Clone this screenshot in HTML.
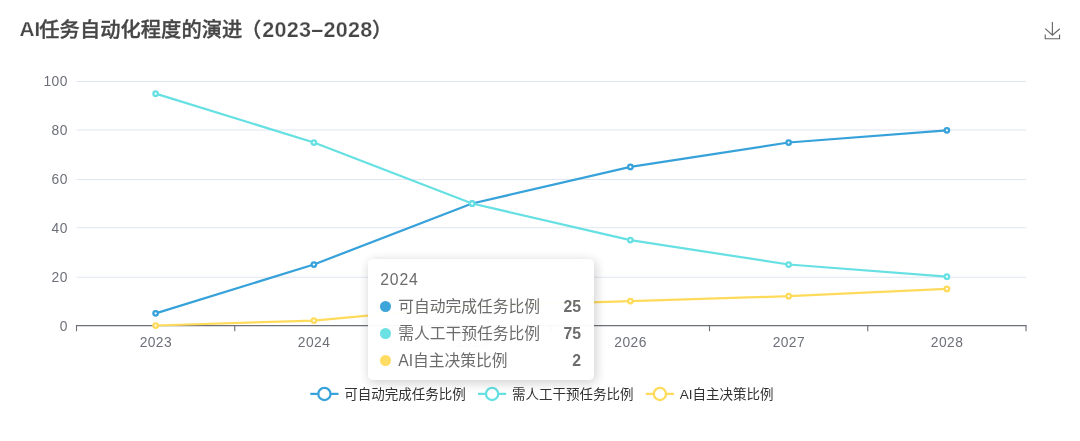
<!DOCTYPE html>
<html lang="zh-CN">
<head>
<meta charset="utf-8">
<title>AI任务自动化程度的演进（2023-2028）</title>
<style>
html,body{margin:0;padding:0;background:#fff;}
body{width:1080px;height:441px;position:relative;overflow:hidden;font-family:"Liberation Sans","Noto Sans CJK SC",sans-serif;}
svg{position:absolute;left:0;top:0;display:block;will-change:transform;}
svg text{font-family:"Liberation Sans","Noto Sans CJK SC",sans-serif;}
.ax{font-size:13.8px;fill:#6E7079;letter-spacing:0.45px;}
.lg{font-size:13.5px;fill:#333;}
.ti{font-size:20.25px;font-weight:bold;fill:#464646;}
.ti .la{stroke:#fff;stroke-width:0.25px;}
.ti .cj{font-weight:500;letter-spacing:0.05px;stroke:#464646;stroke-width:0.35px;}
#tip{position:absolute;left:367.9px;top:258.6px;width:226.3px;height:121.5px;box-sizing:border-box;
 background:#fff;border:1.125px solid #fff;border-radius:4.5px;box-shadow:rgba(0,0,0,0.2) 1.125px 2.25px 11.25px;
 padding:12.05px 11.25px 10.45px;color:#666;font-size:15.75px;line-height:1;opacity:0.96;white-space:nowrap;}
#tip .t{font-size:15.75px;color:#666;font-weight:400;line-height:1;height:15.75px;letter-spacing:0.9px;}
#tip .r{margin-top:11.25px;height:15.75px;line-height:15.75px;position:relative;}
#tip .m{display:inline-block;vertical-align:top;margin-top:2.25px;margin-right:4.5px;border-radius:50%;width:11.25px;height:11.25px;}
#tip .n{font-size:15.75px;color:#666;font-weight:400;vertical-align:top;margin-left:2.25px;}
#tip .v{position:absolute;right:1px;top:0;font-size:15.75px;color:#666;font-weight:900;}
</style>
</head>
<body>
<svg width="1080" height="441" viewBox="0 0 1080 441">
<line x1="76.5" y1="277.31" x2="1026.0" y2="277.31" stroke="#E0E6F1" stroke-width="1.125"/>
<line x1="76.5" y1="227.81" x2="1026.0" y2="227.81" stroke="#E0E6F1" stroke-width="1.125"/>
<line x1="76.5" y1="179.44" x2="1026.0" y2="179.44" stroke="#E0E6F1" stroke-width="1.125"/>
<line x1="76.5" y1="129.94" x2="1026.0" y2="129.94" stroke="#E0E6F1" stroke-width="1.125"/>
<line x1="76.5" y1="81.56" x2="1026.0" y2="81.56" stroke="#E0E6F1" stroke-width="1.125"/>
<line x1="75.94" y1="325.6" x2="1026.56" y2="325.6" stroke="#6E7079" stroke-width="1.125"/>
<line x1="76.50" y1="325.6" x2="76.50" y2="331.20" stroke="#6E7079" stroke-width="1.125"/>
<line x1="234.75" y1="325.6" x2="234.75" y2="331.20" stroke="#6E7079" stroke-width="1.125"/>
<line x1="393.00" y1="325.6" x2="393.00" y2="331.20" stroke="#6E7079" stroke-width="1.125"/>
<line x1="551.25" y1="325.6" x2="551.25" y2="331.20" stroke="#6E7079" stroke-width="1.125"/>
<line x1="709.50" y1="325.6" x2="709.50" y2="331.20" stroke="#6E7079" stroke-width="1.125"/>
<line x1="867.75" y1="325.6" x2="867.75" y2="331.20" stroke="#6E7079" stroke-width="1.125"/>
<line x1="1026.00" y1="325.6" x2="1026.00" y2="331.20" stroke="#6E7079" stroke-width="1.125"/>
<text class="ax" x="67.8" y="330.50" text-anchor="end">0</text>
<text class="ax" x="67.8" y="282.21" text-anchor="end">20</text>
<text class="ax" x="67.8" y="232.71" text-anchor="end">40</text>
<text class="ax" x="67.8" y="184.34" text-anchor="end">60</text>
<text class="ax" x="67.8" y="134.84" text-anchor="end">80</text>
<text class="ax" x="67.8" y="86.46" text-anchor="end">100</text>
<text class="ax" x="155.88" y="346.5" text-anchor="middle">2023</text>
<text class="ax" x="314.12" y="346.5" text-anchor="middle">2024</text>
<text class="ax" x="472.38" y="346.5" text-anchor="middle">2025</text>
<text class="ax" x="630.62" y="346.5" text-anchor="middle">2026</text>
<text class="ax" x="788.88" y="346.5" text-anchor="middle">2027</text>
<text class="ax" x="947.12" y="346.5" text-anchor="middle">2028</text>
<polyline points="155.62,313.30 313.88,264.50 472.12,203.50 630.38,166.90 788.62,142.50 946.88,130.30" fill="none" stroke="#37A2DA" stroke-width="2.25" stroke-linejoin="bevel"/>
<circle cx="155.62" cy="313.30" r="2.25" fill="#fff" stroke="#37A2DA" stroke-width="2.25"/>
<circle cx="313.88" cy="264.50" r="2.25" fill="#fff" stroke="#37A2DA" stroke-width="2.25"/>
<circle cx="472.12" cy="203.50" r="2.25" fill="#fff" stroke="#37A2DA" stroke-width="2.25"/>
<circle cx="630.38" cy="166.90" r="2.25" fill="#fff" stroke="#37A2DA" stroke-width="2.25"/>
<circle cx="788.62" cy="142.50" r="2.25" fill="#fff" stroke="#37A2DA" stroke-width="2.25"/>
<circle cx="946.88" cy="130.30" r="2.25" fill="#fff" stroke="#37A2DA" stroke-width="2.25"/>
<polyline points="155.62,93.70 313.88,142.50 472.12,203.50 630.38,240.10 788.62,264.50 946.88,276.70" fill="none" stroke="#67E0E3" stroke-width="2.25" stroke-linejoin="bevel"/>
<circle cx="155.62" cy="93.70" r="2.25" fill="#fff" stroke="#67E0E3" stroke-width="2.25"/>
<circle cx="313.88" cy="142.50" r="2.25" fill="#fff" stroke="#67E0E3" stroke-width="2.25"/>
<circle cx="472.12" cy="203.50" r="2.25" fill="#fff" stroke="#67E0E3" stroke-width="2.25"/>
<circle cx="630.38" cy="240.10" r="2.25" fill="#fff" stroke="#67E0E3" stroke-width="2.25"/>
<circle cx="788.62" cy="264.50" r="2.25" fill="#fff" stroke="#67E0E3" stroke-width="2.25"/>
<circle cx="946.88" cy="276.70" r="2.25" fill="#fff" stroke="#67E0E3" stroke-width="2.25"/>
<polyline points="155.62,325.50 313.88,320.62 472.12,305.98 630.38,301.10 788.62,296.22 946.88,288.90" fill="none" stroke="#FFDB5C" stroke-width="2.25" stroke-linejoin="bevel"/>
<circle cx="155.62" cy="325.50" r="2.25" fill="#fff" stroke="#FFDB5C" stroke-width="2.25"/>
<circle cx="313.88" cy="320.62" r="2.25" fill="#fff" stroke="#FFDB5C" stroke-width="2.25"/>
<circle cx="472.12" cy="305.98" r="2.25" fill="#fff" stroke="#FFDB5C" stroke-width="2.25"/>
<circle cx="630.38" cy="301.10" r="2.25" fill="#fff" stroke="#FFDB5C" stroke-width="2.25"/>
<circle cx="788.62" cy="296.22" r="2.25" fill="#fff" stroke="#FFDB5C" stroke-width="2.25"/>
<circle cx="946.88" cy="288.90" r="2.25" fill="#fff" stroke="#FFDB5C" stroke-width="2.25"/>
<line x1="310.3" y1="393.9" x2="338.5" y2="393.9" stroke="#37A2DA" stroke-width="2.25"/>
<circle cx="324.40000000000003" cy="393.9" r="6.1" fill="#fff" stroke="#37A2DA" stroke-width="2.25"/>
<text class="lg" x="344.2" y="398.80">可自动完成任务比例</text>
<line x1="478.0" y1="393.9" x2="506.2" y2="393.9" stroke="#67E0E3" stroke-width="2.25"/>
<circle cx="492.1" cy="393.9" r="6.1" fill="#fff" stroke="#67E0E3" stroke-width="2.25"/>
<text class="lg" x="511.9" y="398.80">需人工干预任务比例</text>
<line x1="645.8" y1="393.9" x2="674.0" y2="393.9" stroke="#FFDB5C" stroke-width="2.25"/>
<circle cx="659.9" cy="393.9" r="6.1" fill="#fff" stroke="#FFDB5C" stroke-width="2.25"/>
<text class="lg" x="679.6999999999999" y="398.80">AI自主决策比例</text>
<path transform="translate(1043.9,21.9) scale(0.2909)" d="M4.7,22.9L29.3,45.5L54.7,23.4M4.6,43.6L4.6,58L53.8,58L53.8,43.6M29.2,45.1L29.2,0" fill="none" stroke="#666" stroke-width="3.87"/>
<text class="ti" y="36.2"><tspan x="19.6" y="36.3" class="la" style="font-size:20.8px">AI</tspan><tspan x="39.3" y="37.0" class="cj">任务自动化程度的演进</tspan><tspan x="241.1" y="37.0" class="cj">（</tspan><tspan x="262.2" y="36.7" class="la" style="font-size:21.6px;letter-spacing:0.25px">2023–2028</tspan><tspan x="371.9" y="37.0" class="cj">）</tspan></text>
</svg>
<div id="tip">
<div class="t">2024</div>
<div class="r"><span class="m" style="background:#37A2DA"></span><span class="n">可自动完成任务比例</span><span class="v">25</span></div>
<div class="r"><span class="m" style="background:#67E0E3"></span><span class="n">需人工干预任务比例</span><span class="v">75</span></div>
<div class="r"><span class="m" style="background:#FFDB5C"></span><span class="n">AI自主决策比例</span><span class="v">2</span></div>
</div>
</body>
</html>
